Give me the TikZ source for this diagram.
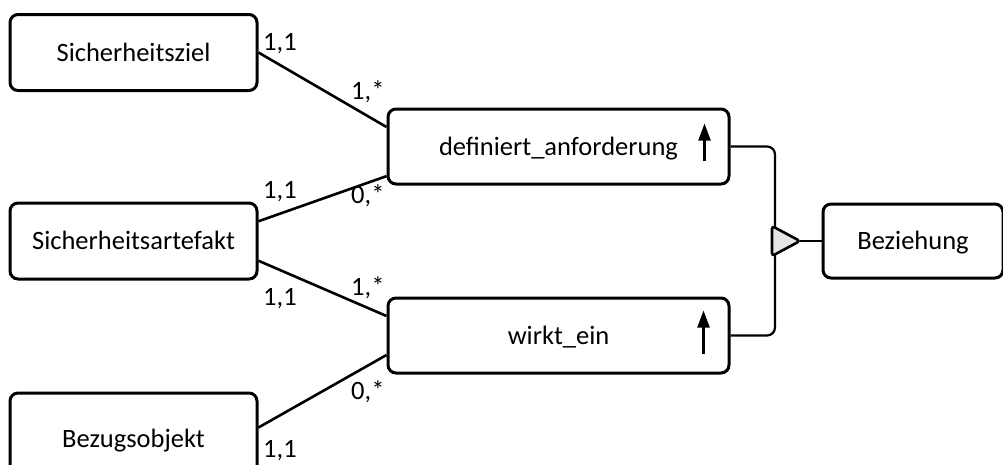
\documentclass[tikz,border=0pt]{standalone}
\usepackage{fontspec}
\setmainfont{Carlito}
\usetikzlibrary{arrows.meta,calc}

\begin{document}
\begin{tikzpicture}[x=1pt,y=-1pt,
  every node/.style={font=\fontsize{26.5}{30}\selectfont, text=black},
  entity/.style={draw, line width=3pt, rounded corners=8pt, inner sep=0pt,
    text height=17pt, text depth=0pt, align=center},
  card/.style={inner sep=0pt, anchor=base west},
  link/.style={line width=2.6pt},
  updir/.style={line width=2.2pt, -{Triangle[length=17pt,width=12pt]}},
]
\useasboundingbox[clip] (0,0) rectangle (1003,464);

% entity boxes
\node[entity, minimum width=247pt, minimum height=76pt] (sz) at (133.5,52.5) {Sicherheitsziel};
\node[entity, minimum width=247pt, minimum height=76pt] (sa) at (133.5,241) {Sicherheitsartefakt};
\node[entity, minimum width=247pt, minimum height=92pt] (bo) at (133.5,439) {Bezugsobjekt};

% relationship boxes
\node[entity, minimum width=341pt, minimum height=75pt] (da) at (558.5,146.5) {definiert\_anforderung};
\node[entity, minimum width=341pt, minimum height=75pt] (we) at (558.5,335.5) {wirkt\_ein};

% supertype box
\node[entity, minimum width=180pt, minimum height=74pt] (bz) at (913,241) {Beziehung};

% direction arrows
\draw[updir] ($(da.north east)+(-26,53)$) -- ($(da.north east)+(-26,16)$);
\draw[updir] ($(we.north east)+(-27,57)$) -- ($(we.north east)+(-27,14)$);

% connectors between entities and relationships
\draw[link] (sz.east) -- ($(da.north west)!0.25!(da.south west)$);
\draw[link] ($(sa.north east)!0.25!(sa.south east)$) -- ($(da.north west)!0.88!(da.south west)$);
\draw[link] ($(sa.north east)!0.75!(sa.south east)$) -- ($(we.north west)!0.25!(we.south west)$);
\draw[link] ($(bo.north east)+(0,36)$) -- ($(we.north west)!0.75!(we.south west)$);

% cardinalities
\node[card] (c1) at (263,50)  {1,1};
\node[card] (c2) at (351,99)  {1,*};
\node[card] (c3) at (263,198) {1,1};
\node[card] (c4) at (351,203) {0,*};
\node[card] (c5) at (351,295) {1,*};
\node[card] (c6) at (263,305) {1,1};
\node[card] (c7) at (351,399) {0,*};
\node[card] (c8) at (263,457) {1,1};

% generalisation bracket with triangle
\coordinate (br) at (775,241);
\draw[line width=2.2pt, rounded corners=8pt] (da.east) -| (br) |- (we.east);
\coordinate (tip) at (800,241);
\draw[line width=2.6pt, fill=black!10, rounded corners=3pt]
  (772,226) -- (tip) -- (772,256) -- cycle;
\draw[link] (tip) -- (bz.west);
\end{tikzpicture}
\end{document}
